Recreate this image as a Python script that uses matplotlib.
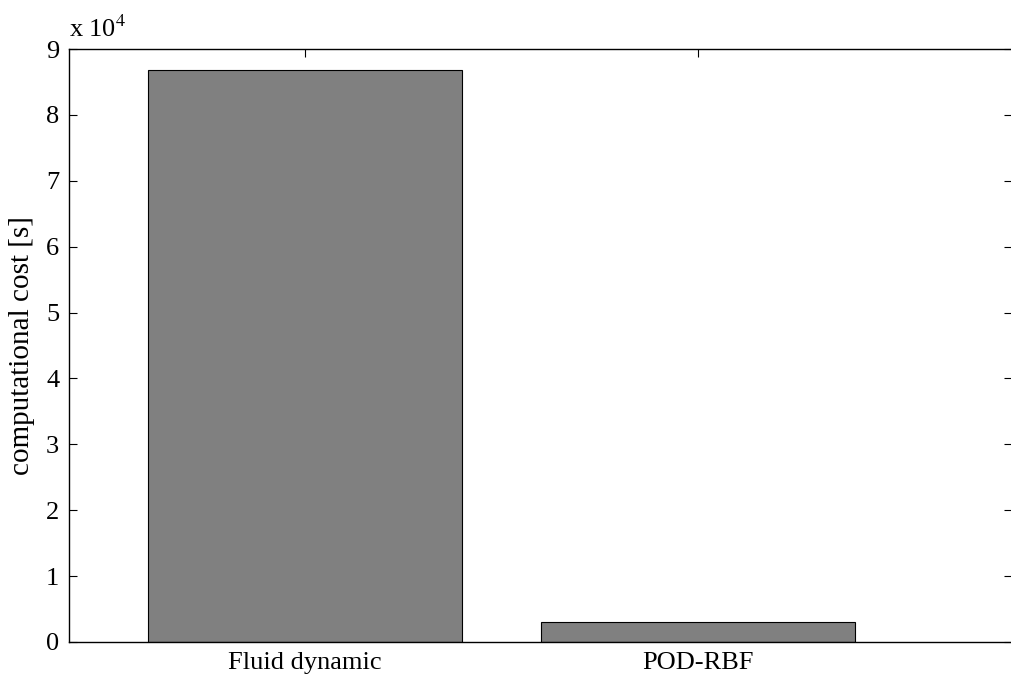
import numpy as np
import matplotlib
matplotlib.use('Agg')
import matplotlib.pyplot as plt
from matplotlib import font_manager

# data
categories = ['Fluid dynamic', 'POD-RBF']
cost_seconds = [86800, 3100]
y_ticks = [0, 1, 2, 3, 4, 5, 6, 7, 8, 9]

# pick a Times-like face that is actually installed
installed = set(f.name for f in font_manager.fontManager.ttflist)
serif_face = 'STIXGeneral'
for name in ['Times New Roman', 'Liberation Serif', 'Tinos', 'TeX Gyre Termes',
             'Nimbus Roman', 'STIX Two Text']:
    if name in installed:
        serif_face = name
        break
plt.rcParams['font.family'] = [serif_face, 'STIXGeneral', 'DejaVu Serif']
plt.rcParams['mathtext.fontset'] = 'stix'

fig = plt.figure(figsize=(10.11, 6.87), dpi=100)
ax = fig.add_axes([69 / 1011, 45 / 687, 943 / 1011, 593 / 687])

x = np.arange(1, len(categories) + 1)
ax.bar(x, np.array(cost_seconds) / 1e4, width=0.8, color='#808080',
       edgecolor='black', linewidth=0.8, zorder=2)

ax.set_xlim(0.4, 2.8)
ax.set_ylim(0, 9)
ax.set_xticks(x)
ax.set_xticklabels(categories)
ax.set_yticks(y_ticks)

ax.tick_params(axis='both', direction='in', length=6, width=0.8,
               labelsize=19, top=True, right=True, pad=7)
for side in ['left', 'bottom', 'top']:
    ax.spines[side].set_linewidth(1.0)
ax.spines['right'].set_visible(False)

ax.set_ylabel('computational cost [s]', fontsize=21, labelpad=8)
ax.text(0.0, 1.012, r'x 10$^{4}$', transform=ax.transAxes, fontsize=19,
        ha='left', va='bottom')

fig.savefig('out.png', dpi=100)
plt.close(fig)
